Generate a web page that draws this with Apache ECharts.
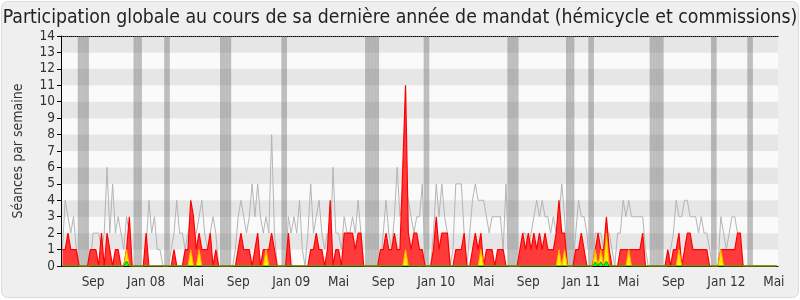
<!DOCTYPE html>
<html>
<head>
<meta charset="utf-8">
<script src="https://cdn.jsdelivr.net/npm/echarts@6/dist/echarts.min.js"></script>
<style>html,body{margin:0;padding:0;background:#fff}#c{width:800px;height:300px}</style>
</head>
<body>
<div id="c"></div>
<script>
// Weekly data, ~June 2007 -> June 2012 (257 weeks)
const presence = [
1,1,2,1,1,1,0,0,0,0, 1,1,1,0,2,0,2,1,0,1, 1,0,0,1,3,0,0,0,0,0, 2,0,0,0,0,0,0,0,0,0,
1,0,0,0,1,1,4,3,1,2, 1,1,1,2,0,1,0,0,0,0, 0,0,0,1,2,1,1,1,0,1, 2,0,1,1,1,2,1,0,0,0,
0,2,0,0,0,0,0,0,0,1, 1,2,1,1,0,1,4,0,1,1, 0,2,2,2,2,1,2,2,0,0, 0,0,0,0,1,1,2,1,1,2,
1,1,6,11,2,1,2,2,1,1, 0,0,0,1,3,1,2,2,2,0, 0,1,1,1,2,0,0,1,2,1, 2,0,1,1,1,0,1,1,1,0,
0,0,0,0,1,2,1,2,1,2, 1,2,1,2,1,1,1,2,4,2, 2,0,0,0,1,1,2,1,0,0, 0,1,2,1,1,3,1,0,0,0,
1,1,1,1,1,1,1,1,2,0, 0,0,0,0,0,0,0,1,0,1, 1,2,0,1,2,2,1,1,1,1, 1,1,0,0,0,0,1,1,1,1,
1,1,2,2,0,0,0,0,0,0, 0,0,0,0,0,0,0
];
const mediane = [
1,4,3,2,3,1,0,0,0,0, 0,2,2,2,1,2,6,2,5,2, 3,2,1,3,2,0,0,0,0,0, 1,4,2,3,1,1,0,0,0,1,
2,4,2,2,1,2,3,2,2,3, 4,2,1,2,3,2,0,0,0,0, 0,0,1,3,4,3,2,3,5,3, 5,3,2,3,2,8,2,0,0,0,
0,3,2,3,2,4,1,0,2,5, 2,3,4,2,1,2,1,6,2,2, 1,3,2,2,3,2,4,2,0,0, 0,0,0,0,0,2,4,2,1,3,
6,3,4,5,4,3,2,3,3,5, 0,0,0,2,5,3,5,3,2,0, 1,5,5,5,2,0,2,4,5,4, 4,4,3,2,3,3,3,3,1,5,
0,0,0,0,0,2,2,1,2,3, 4,3,4,3,3,2,3,2,3,5, 3,0,0,0,2,4,3,3,2,0, 0,2,2,2,1,2,2,1,0,2,
2,4,3,4,3,3,3,3,3,1, 0,0,0,0,0,0,0,0,1,2, 4,3,3,4,4,3,3,3,2,3, 2,2,1,0,0,0,3,2,1,2,
3,3,2,1,0,0,0,0,0,0, 0,0,0,0,0,0,0
];
// sparse series: [week index, value]
const participationPts = [[23,1],[46,1],[49,1],[73,1],[123,1],[150,1],[178,1],[180,1],[191,1],[193,1],[195,2],[203,1],[221,1],[236,1]];
const questionPts = [[23,0.3],[191,0.25],[193,0.25],[195,0.3]];
const vacationWeeks = [6,7,8,9,26,27,28,37,38,57,58,59,60,79,80,109,110,111,112,113,130,131,160,161,162,163,181,182,183,189,190,211,212,213,214,215,233,234,246,247];
const tickIdx = [11,30,47,63,82,99,115,134,151,167,186,203,219,238,255];
const tickLabels = ['Sep','Jan 08','Mai','Sep','Jan 09','Mai','Sep','Jan 10','Mai','Sep','Jan 11','Mai','Sep','Jan 12','Mai'];

const N = presence.length;
const cats = [];
for (let i = 0; i < N; i++) { const k = tickIdx.indexOf(i); cats.push(k >= 0 ? tickLabels[k] : ''); }
const sparse = pts => { const a = new Array(N).fill(0); pts.forEach(p => a[p[0]] = p[1]); return a; };
const participation = sparse(participationPts);
const questions = sparse(questionPts);
const vac = cats.map((c, i) => vacationWeeks.indexOf(i) >= 0 ? 14 : '-');

const FONT = 'DejaVu Sans Condensed, DejaVu Sans, sans-serif';
const chart = echarts.init(document.getElementById('c'), null, {renderer: 'canvas'});
chart.setOption({
  backgroundColor: '#ffffff',
  animation: false,
  graphic: [{type: 'rect', z: -100, left: 1, top: 1, shape: {width: 797, height: 296, r: 6}, style: {fill: '#efefef', stroke: '#dadada', lineWidth: 1}}],
  title: {text: 'Participation globale au cours de sa dernière année de mandat (hémicycle et commissions)', left: 'center', top: 3,
    textStyle: {fontFamily: FONT, fontSize: 19.3, fontWeight: 'normal', color: '#222'}},
  grid: {left: 61, right: 22, top: 36, bottom: 34},
  xAxis: [{
    type: 'category', data: cats, boundaryGap: true,
    axisLine: {lineStyle: {color: '#000', width: 1}}, axisTick: {show: false},
    axisLabel: {interval: (i, v) => v !== '', color: '#333', fontSize: 13.5, fontFamily: FONT, margin: 9},
    splitLine: {show: false}
  }, {
    type: 'category', data: cats, position: 'top', boundaryGap: true,
    axisLine: {lineStyle: {color: '#000', type: 'dotted', width: 1}}, axisTick: {show: false}, axisLabel: {show: false}
  }],
  yAxis: {
    type: 'value', min: 0, max: 14, interval: 1,
    name: 'Séances par semaine', nameLocation: 'middle', nameGap: 36,
    nameTextStyle: {fontFamily: FONT, fontSize: 14, color: '#333'},
    axisLine: {show: true, lineStyle: {color: '#000'}},
    axisTick: {show: true, length: 4, lineStyle: {color: '#000'}},
    axisLabel: {color: '#333', fontSize: 13.5, fontFamily: FONT, margin: 6},
    splitLine: {show: false},
    splitArea: {show: true, areaStyle: {color: ['#fafafa', '#e6e6e6']}}
  },
  series: [
    {type: 'bar', data: vac, barWidth: '100%', silent: true, z: 1, itemStyle: {color: 'rgba(100,100,100,0.4)'}},
    {type: 'line', data: mediane, symbol: 'none', z: 2, lineStyle: {color: '#b4b4b4', width: 1}},
    {type: 'line', data: presence, symbol: 'none', z: 3, lineStyle: {color: '#ff0000', width: 1.2}, areaStyle: {color: '#ff3a3a', opacity: 1}},
    {type: 'line', data: participation, symbol: 'none', z: 4, lineStyle: {color: '#ffb000', width: 1}, areaStyle: {color: '#ffee00', opacity: 1}},
    {type: 'line', data: questions, symbol: 'none', z: 5, lineStyle: {color: '#00aa00', width: 1}, areaStyle: {color: '#22ee22', opacity: 1}}
  ]
});
</script>
</body>
</html>
